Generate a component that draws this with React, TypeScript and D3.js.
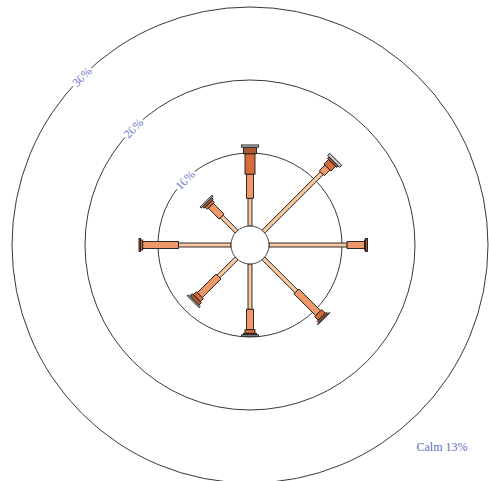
import React from 'react';
import * as d3 from 'd3';

const directions = ['N', 'NE', 'E', 'SE', 'S', 'SW', 'W', 'NW'];
const bearings = [0, 45, 90, 135, 180, 225, 270, 315];
const speedBins = ['0-2', '2-4', '4-6', '6-8', '8+'];
// percent of time per direction for each speed class
const bin1 = [3.8, 11.3, 10.7, 6.4, 6.2, 3.5, 7.2, 2.9];
const bin2 = [3.3, 1.1, 2.4, 4.2, 2.8, 3.6, 4.9, 2.1];
const bin3 = [2.8, 0.9, 0.1, 0.7, 0.5, 0.6, 0.3, 0.4];
const bin4 = [0.9, 0.3, 0.3, 0.3, 0.2, 0.5, 0.2, 0.3];
const bin5 = [0.3, 0.4, 0, 0.1, 0.2, 0.2, 0, 0.2];
const ringTicks = [10, 20, 30];
const calmPct = 13;

const binColors = ['#fbc9a0', '#ef9868', '#d56a3a', '#a55a34', '#c8c8c8'];
const binWidths = [4, 7, 10, 13, 17];

const W = 489;
const H = 481;
const cx = 250;
const cy = 245;

const App = () => {
  const r = d3.scaleLinear().domain([0, 30]).range([19, 238]);
  const bins = [bin1, bin2, bin3, bin4, bin5];

  const spokes = directions.map((dir, i) => {
    const vals = bins.map((b) => b[i]);
    const cum = d3.cumsum(vals);
    return { dir, bearing: bearings[i], segs: vals.map((v, k) => ({ k, start: k === 0 ? 0 : cum[k - 1], end: cum[k], v })) };
  });

  return (
    <svg width={W} height={H} style={{ position: 'absolute', left: 0, top: 0, background: '#fff' }}>
      <g transform={`translate(${cx},${cy})`}>
        {ringTicks.map((t) => (
          <circle key={t} r={r(t)} fill="none" stroke="#222" strokeWidth={0.9} />
        ))}
        {ringTicks.map((t) => {
          const a = (-45 * Math.PI) / 180;
          const rr = r(t);
          return (
            <text
              key={'l' + t}
              transform={`translate(${rr * Math.sin(a)},${-rr * Math.cos(a)}) rotate(-45)`}
              textAnchor="middle"
              dy="0.35em"
              fontFamily="'Liberation Serif', 'DejaVu Serif', serif"
              fontSize={12}
              fill="#6a78c8"
              stroke="#fff"
              strokeWidth={5}
              paintOrder="stroke"
            >
              {t}%
            </text>
          );
        })}
        {spokes.map((s) => (
          <g key={s.dir} transform={`rotate(${s.bearing})`}>
            {s.segs.filter((d) => d.v > 0).map((d) => (
              <rect
                key={speedBins[d.k]}
                x={-binWidths[d.k] / 2}
                y={-r(d.end)}
                width={binWidths[d.k]}
                height={r(d.end) - r(d.start)}
                fill={binColors[d.k]}
                stroke="#1a1a1a"
                strokeWidth={0.9}
              />
            ))}
          </g>
        ))}
        <circle r={r(0)} fill="#fff" stroke="#333" strokeWidth={0.9} />
      </g>
      <text
        x={442}
        y={451}
        textAnchor="middle"
        fontFamily="'Liberation Serif', 'DejaVu Serif', serif"
        fontSize={12}
        fill="#5d6bbd"
      >
        Calm {calmPct}%
      </text>
    </svg>
  );
};

export default App;
